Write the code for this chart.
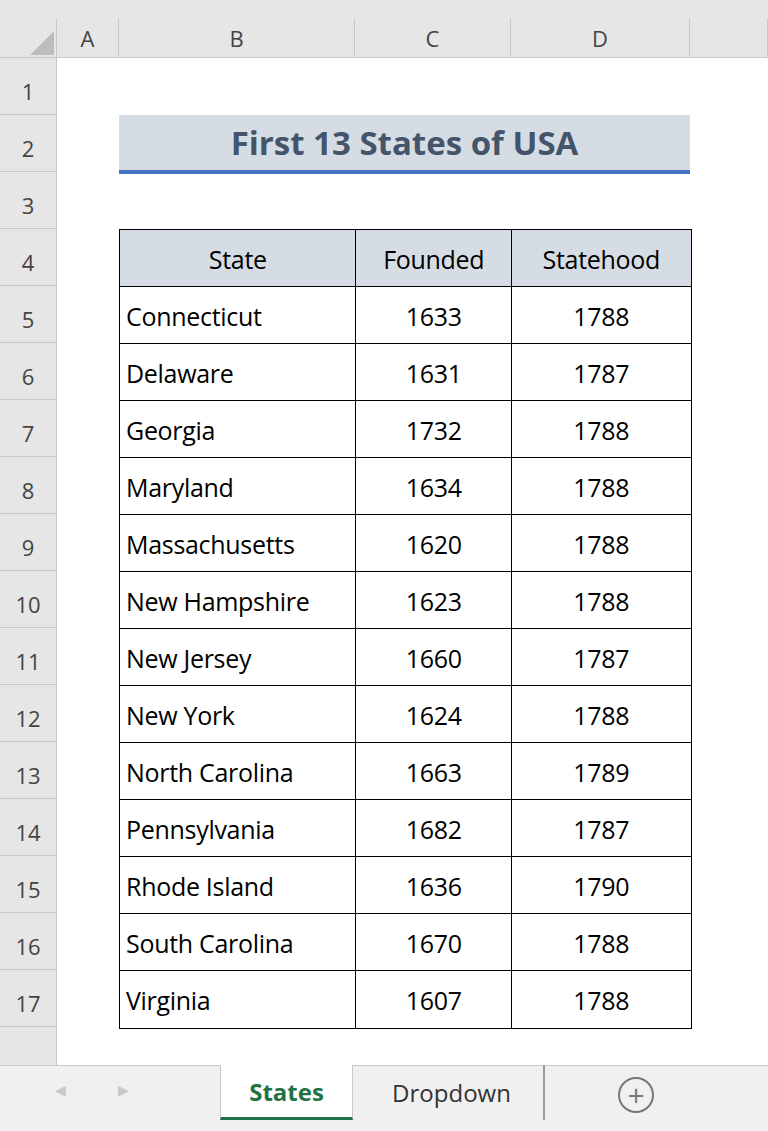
<!DOCTYPE html>
<html><head><meta charset="utf-8">
<script src="https://cdn.jsdelivr.net/npm/chart.js"></script>
<style>
body{margin:0;width:768px;height:1131px;background:#fff;font-family:"Open Sans","Noto Sans",sans-serif;overflow:hidden;position:relative}
.a{position:absolute;box-sizing:border-box}
.hdr{background:#e6e6e6;color:#444;font-size:22px;display:flex;align-items:center;justify-content:center;border-right:1px solid #c8c8c8;border-bottom:1px solid #c8c8c8}
.c{border:1.5px solid #000;font-size:25px;display:flex;align-items:center;color:#000;letter-spacing:-0.3px}
</style></head><body>
<div id="root"></div>
<script>
const title="First 13 States of USA";
const headers=["State","Founded","Statehood"];
const states=["Connecticut","Delaware","Georgia","Maryland","Massachusetts","New Hampshire","New Jersey","New York","North Carolina","Pennsylvania","Rhode Island","South Carolina","Virginia"];
const founded=[1633,1631,1732,1634,1620,1623,1660,1624,1663,1682,1636,1670,1607];
const statehood=[1788,1787,1788,1788,1788,1788,1787,1788,1789,1787,1790,1788,1788];
const colLetters=["A","B","C","D",""];

const R=document.getElementById('root');
function el(cls,x,y,w,h,html,style){const d=document.createElement('div');d.className='a '+cls;Object.assign(d.style,{left:x+'px',top:y+'px',width:w+'px',height:h+'px'},style||{});if(html!==undefined)d.innerHTML=html;R.appendChild(d);return d;}
const colX=[57,119,355,511,690,768];
const top0=58,rh=57;
el('',0,0,768,18,'',{background:'#e6e6e6'});
el('hdr',0,18,57,40,'<svg width="30" height="30"><polygon points="28,4 28,28 4,28" fill="#bdbdbd"/></svg>',{justifyContent:'flex-end',alignItems:'flex-end'});
for(let i=0;i<5;i++)el('hdr',colX[i],18,colX[i+1]-colX[i],40,colLetters[i]);
for(let r=0;r<17;r++) el('hdr',0,top0+r*rh,57,rh,String(r+1),{paddingTop:'10px'});
el('',0,top0+17*rh,57,1065-top0-17*rh,'',{background:'#e6e6e6',borderRight:'1px solid #c8c8c8'});
el('',119,115,571,59,title,{background:'#d6dce4',color:'#44546a',fontWeight:'bold',fontSize:'33px',display:'flex',alignItems:'center',justifyContent:'center',borderBottom:'4px solid #4472c4'});
const tx=[119,355,511,690],ty=229;
function cell(i,r,t,bg,align){el('c',tx[i],ty+r*rh,tx[i+1]-tx[i]+1.5,rh+1.5,t,{background:bg||'#fff',justifyContent:align,paddingLeft:align==='flex-start'?'6px':'0',paddingTop:'2px'});}
headers.forEach((h,i)=>cell(i,0,h,'#d6dce4','center'));
states.forEach((s,r)=>{cell(0,r+1,s,null,'flex-start');cell(1,r+1,founded[r],null,'center');cell(2,r+1,statehood[r],null,'center');});
el('',0,1065,768,66,'',{background:'#f0f0f0',borderTop:'1px solid #c8c8c8'});
el('',55,1080,20,30,'&#9664;',{color:'#c8c8c8',fontSize:'14px'});
el('',118,1080,20,30,'&#9654;',{color:'#c8c8c8',fontSize:'14px'});
el('',220,1065,133,55,'States',{background:'#fff',color:'#217346',fontWeight:'bold',fontSize:'24px',display:'flex',alignItems:'center',justifyContent:'center',borderBottom:'3px solid #217346',borderLeft:'1px solid #c8c8c8',borderRight:'1px solid #c8c8c8'});
el('',360,1065,185,55,'Dropdown',{color:'#333',fontSize:'24px',display:'flex',alignItems:'center',justifyContent:'center',borderRight:'2px solid #9a9a9a'});
el('',618,1077,36,36,'+',{border:'2px solid #777',borderRadius:'50%',color:'#777',fontSize:'30px',display:'flex',alignItems:'center',justifyContent:'center',lineHeight:'1'});
</script></body></html>
